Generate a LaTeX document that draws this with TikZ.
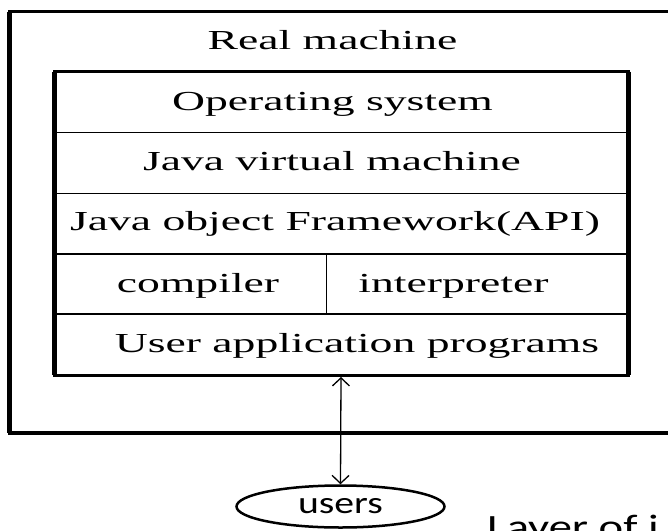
\documentclass[tikz,border=0pt]{standalone}
\usepackage{graphicx}
\usepackage{fontspec}
\setmainfont{Liberation Serif}
\newfontfamily\carl{Carlito}
\usetikzlibrary{shapes.geometric,arrows.meta}
\newcommand{\sx}[1]{\scalebox{1.66}[1]{#1}}
\begin{document}
\begin{tikzpicture}[x=1pt,y=-1pt,
  cell/.style={draw, line width=1.3pt, inner sep=0pt, anchor=north west},
  lbl/.style={anchor=base, inner sep=0pt, font=\fontsize{27.5}{30}\selectfont},
  barb/.style={line width=1.3pt, {Straight Barb[length=8pt,width=17pt]}-{Straight Barb[length=8pt,width=17pt]}},
]
\useasboundingbox (0,0) rectangle (668,530);
\clip (0,0) rectangle (668,530);
\fill[white] (0,0) rectangle (668,530);

% outer box (real machine)
\coordinate (otl) at (9.5,11.5);
\coordinate (obr) at (700,433);
\draw[line width=3.3pt] (otl) rectangle (obr);
\draw[line width=4.3pt] (otl) -- (otl |- obr);

\node[lbl] (rm) at (332.5,49.5) {\sx{Real machine}};

% layers
\node[cell, minimum width=572.5pt, minimum height=60.5pt] (os) at (54.5,71.5) {};
\node[cell, minimum width=572.5pt, minimum height=60.5pt] (jvm) at (54.5,132) {};
\node[cell, minimum width=572.5pt, minimum height=60.8pt] (api) at (54.5,192.5) {};
\node[cell, minimum width=271.5pt, minimum height=60pt] (comp) at (54.5,253.3) {};
\node[cell, minimum width=301pt, minimum height=60pt] (interp) at (326,253.3) {};
\node[cell, minimum width=572.5pt, minimum height=60.7pt] (user) at (54.5,313.3) {};

% inner frame
\draw[line width=3pt] (os.north west) rectangle (user.south east);
\draw[line width=5pt] (os.north west) -- (user.south west);
\draw[line width=5pt] (os.north east) -- (user.south east);

\node[lbl] (tos) at (332.5,110) {\sx{Operating system}};
\node[lbl] (tjvm) at (332,170) {\sx{Java virtual machine}};
\node[lbl] (tapi) at (335,230) {\sx{Java object Framework(API)}};
\node[lbl] (tcomp) at (198,292) {\sx{compiler}};
\node[lbl] (tint) at (453.5,292) {\sx{interpreter}};
\node[lbl] (tuser) at (357,352) {\sx{User application programs}};

% users
\node[ellipse, draw, line width=2.5pt, minimum width=208pt, minimum height=42pt, inner sep=0pt,
      font=\carl\fontsize{31}{33}\selectfont] (users) at (340.5,506.5) {\scalebox{1.28}[1]{users}};
\coordinate (ua) at (341,377);
\draw[barb] (ua) -- (users.north);

\node[anchor=base west, inner sep=0pt, font=\carl\fontsize{34}{36}\selectfont] (lay) at (487,538) {\scalebox{1.37}[1]{Layer of i}};
\end{tikzpicture}
\end{document}
